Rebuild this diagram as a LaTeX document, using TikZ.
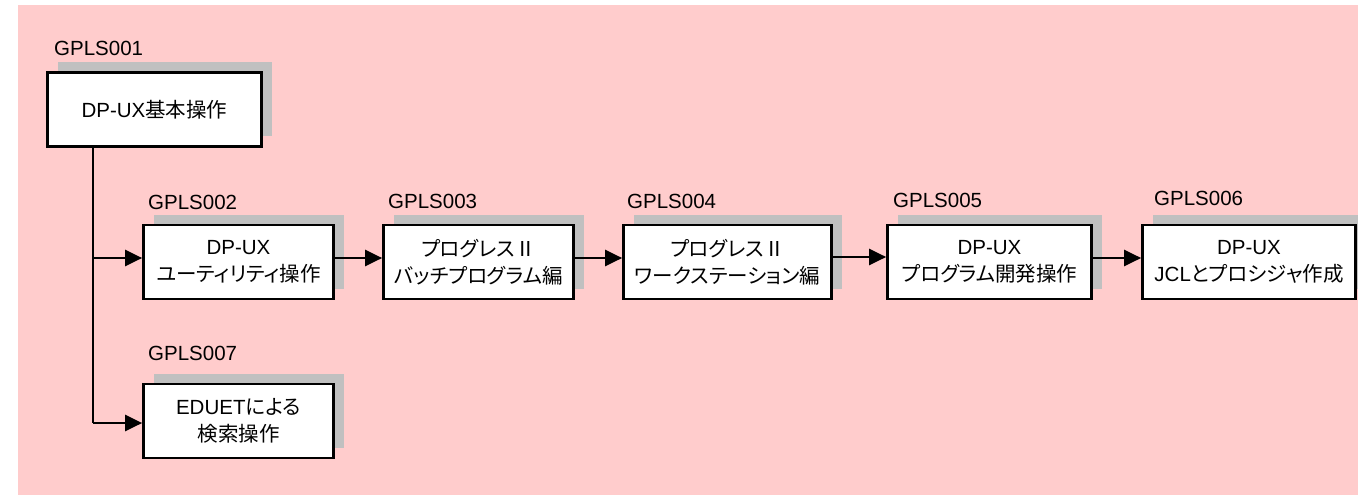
\documentclass[tikz,border=0pt]{standalone}
\usepackage{fontspec}
\setmainfont{Liberation Sans}
\newfontfamily\jpfont[RawFeature=+palt]{Noto Sans CJK JP}
\newcommand{\jp}[1]{{\jpfont #1}}
\usepackage{xcolor}
\usepackage{tikz}
\usetikzlibrary{arrows.meta,shadows}
\definecolor{bgpink}{HTML}{FFCCCC}
\definecolor{shadowgray}{HTML}{C0C0C0}

\begin{document}
\begin{tikzpicture}[x=1pt,y=-1pt,
   font=\fontsize{20.5}{27}\selectfont,
   course/.style={draw,line width=2.7pt,fill=white,align=center,inner sep=0pt,
      minimum height=74pt,
      drop shadow={shadow xshift=10.5pt,shadow yshift=10.5pt,fill=shadowgray,opacity=1}},
   code/.style={anchor=west,inner sep=0pt},
   link/.style={line width=2.7pt,-{Triangle[length=17pt,width=16pt]}}]
   \useasboundingbox (0,0) rectangle (1358,495);
   \fill[bgpink] (18,5) rectangle (1358,495);
   % courses
   \node[course,minimum width=214pt] (b1) at (154.5,109.5) {DP-UX\jp{基本操作}};
   \node[course,minimum width=190pt] (b2) at (238.5,262) {DP-UX\\\jp{ユーティリティ操作}};
   \node[course,minimum width=190pt] (b3) at (478.5,262) {\jp{プログレスⅡ}\\\jp{バッチプログラム編}};
   \node[course,minimum width=208pt] (b4) at (727.5,262) {\jp{プログレスⅡ}\\\jp{ワークステーション編}};
   \node[course,minimum width=204pt] (b5) at (989.5,262) {DP-UX\\\jp{プログラム開発操作}};
   \node[course,minimum width=213pt] (b6) at (1249,262) {DP-UX\\JCL\jp{とプロシジャ作成}};
   \node[course,minimum width=190pt] (b7) at (238.5,421) {EDUET\jp{による}\\\jp{検索操作}};
   % codes
   \node[code] (c1) at (54,48) {GPLS001};
   \node[code] (c2) at (148,202) {GPLS002};
   \node[code] (c3) at (388,201) {GPLS003};
   \node[code] (c4) at (627,201) {GPLS004};
   \node[code] (c5) at (893,200) {GPLS005};
   \node[code] (c6) at (1154,198) {GPLS006};
   \node[code] (c7) at (148,353) {GPLS007};
   % links
   \coordinate (trunk) at (93,423);
   \coordinate (in2) at ([yshift=4pt]b2.west);
   \draw[line width=2.7pt] (b1.south -| trunk) -- (trunk);
   \draw[link] (in2 -| trunk) -- (in2);
   \draw[link] (trunk) -- (trunk -| b7.west);
   \draw[link] ([yshift=4pt]b2.east) -- ([yshift=4pt]b3.west);
   \draw[link] ([yshift=4pt]b3.east) -- ([yshift=4pt]b4.west);
   \draw[link] ([yshift=5pt]b4.east) -- ([yshift=5pt]b5.west);
   \draw[link] ([yshift=4pt]b5.east) -- ([yshift=4pt]b6.west);
\end{tikzpicture}
\end{document}
